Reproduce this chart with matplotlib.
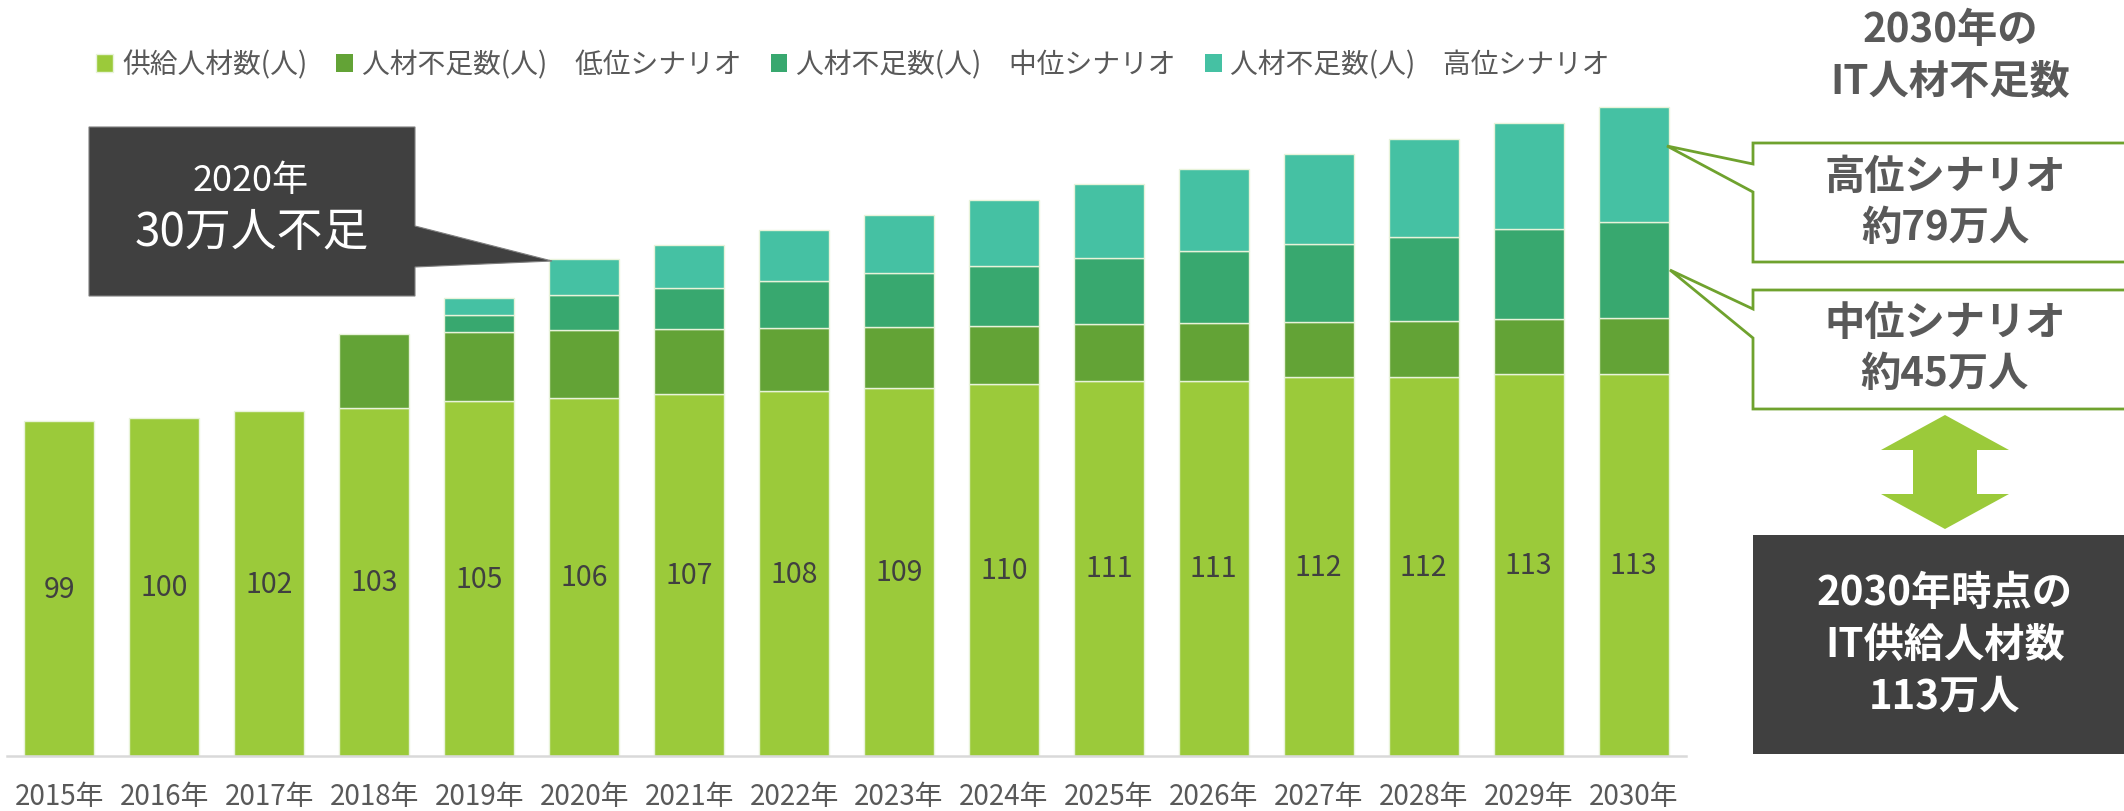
import numpy as np
import matplotlib.pyplot as plt
from matplotlib.patches import Polygon

plt.rcParams['font.family'] = ['Noto Sans CJK JP', 'DejaVu Sans']

# IT人材の需給（万人）
years = [2015, 2016, 2017, 2018, 2019, 2020, 2021, 2022,
         2023, 2024, 2025, 2026, 2027, 2028, 2029, 2030]
year_labels = [f'{y}年' for y in years]
supply = [99, 100, 102, 103, 105, 106, 107, 108,
          109, 110, 111, 111, 112, 112, 113, 113]
# 各シナリオの不足数（シナリオごとの総数）
gap_low = [0, 0, 0, 22, 20.5, 19.9, 19.2, 18.5,
           18.0, 17.3, 16.7, 17.2, 16.5, 16.8, 16.2, 16.6]
gap_mid = [0, 0, 0, 22, 25.4, 30.3, 31.4, 32.6,
           34.0, 35.0, 36.4, 38.5, 39.5, 41.5, 43.0, 45.0]
gap_high = [0, 0, 0, 22, 30.6, 41.1, 44.3, 47.7,
            51.0, 54.6, 58.3, 62.6, 66.0, 70.6, 74.2, 79.0]
series_names = ['供給人材数(人)',
                '人材不足数(人)\u3000低位シナリオ',
                '人材不足数(人)\u3000中位シナリオ',
                '人材不足数(人)\u3000高位シナリオ']
colors = ['#9BCA3A', '#63A336', '#38A86F', '#45C1A3']

sup = np.array(supply, dtype=float)
low = np.array(gap_low)
mid = np.array(gap_mid)
high = np.array(gap_high)
x = np.arange(len(years))
w = 0.667

fig = plt.figure(figsize=(21.24, 8.12), dpi=100)
ax = fig.add_axes([0.0033, 0.0677, 0.7905, 0.8325])


def edges(h):
    return ['#E8F3DA' if v > 0 else 'none' for v in h]


# 供給 → 低位 → 中位との差 → 高位との差 の順に積み上げ
segs = [(sup, 0), (low, sup), (mid - low, sup + low), (high - mid, sup + mid)]
bars = []
for (h, b), c in zip(segs, colors):
    bars.append(ax.bar(x, h, w, bottom=b, color=c, edgecolor=edges(h), linewidth=1.0))

ax.bar_label(bars[0], labels=[str(v) for v in supply], label_type='center',
             fontsize=20.5, color='#404040')

ax.set_xlim(-0.5, 15.5)
ax.set_ylim(0, 200)
ax.set_xticks(x, year_labels, fontsize=20, color='#595959')
ax.tick_params(axis='x', length=0, pad=18)
ax.set_yticks([])
for s in ['top', 'left', 'right']:
    ax.spines[s].set_visible(False)
ax.spines['bottom'].set_color('#D9D9D9')
ax.spines['bottom'].set_linewidth(1.8)

fig.legend(bars, series_names, loc='center left', bbox_to_anchor=(0.0454, 0.919),
           ncol=4, frameon=False, fontsize=20, labelcolor='#595959',
           handlelength=0.6, handleheight=0.6, handletextpad=0.32,
           columnspacing=1.05, borderpad=0, borderaxespad=0)

# 注釈レイヤー（ピクセル座標）
ov = fig.add_axes([0, 0, 1, 1])
ov.set_xlim(0, 2124)
ov.set_ylim(812, 0)
ov.axis('off')

dark = '#404040'
frame = '#6FA22E'

# 2020年の吹き出し
ov.add_patch(Polygon([(89, 128), (415, 128), (415, 227), (552, 262), (415, 268),
                      (415, 297), (89, 297)], closed=True, facecolor=dark,
                     edgecolor='#7F7F7F', linewidth=0.8))
ov.text(251, 181, '2020年', color='white', fontsize=26, ha='center', va='center')
ov.text(252, 233, '30万人不足', color='white', fontsize=33, ha='center', va='center')

# 右側の説明
txt = dict(color='#595959', fontsize=29, fontweight='bold', ha='center', va='center')
ov.text(1950, 30, '2030年の', **txt)
ov.text(1950, 82, 'IT人材不足数', **txt)

ov.add_patch(Polygon([(1753, 144), (2140, 144), (2140, 263), (1753, 263), (1753, 193),
                      (1667, 147), (1753, 165)], closed=True, facecolor='white',
                     edgecolor=frame, linewidth=2))
ov.text(1945, 177, '高位シナリオ', **txt)
ov.text(1945, 228, '約79万人', **txt)

ov.add_patch(Polygon([(1753, 291), (2140, 291), (2140, 410), (1753, 410), (1753, 339),
                      (1670, 271), (1753, 310)], closed=True, facecolor='white',
                     edgecolor=frame, linewidth=2))
ov.text(1945, 324, '中位シナリオ', **txt)
ov.text(1945, 375, '約45万人', **txt)

# 上下矢印
ov.add_patch(Polygon([(1945, 416), (2009, 451), (1977, 451), (1977, 495), (2009, 495),
                      (1945, 530), (1881, 495), (1913, 495), (1913, 451), (1881, 451)],
                     closed=True, facecolor='#9BCA3A', edgecolor='none'))

ov.add_patch(Polygon([(1753, 536), (2140, 536), (2140, 755), (1753, 755)], closed=True,
                     facecolor=dark, edgecolor='none'))
txt_w = dict(txt, color='white')
ov.text(1945, 593, '2030年時点の', **txt_w)
ov.text(1945, 645, 'IT供給人材数', **txt_w)
ov.text(1945, 697, '113万人', **txt_w)

plt.savefig('out.png', dpi=100)
